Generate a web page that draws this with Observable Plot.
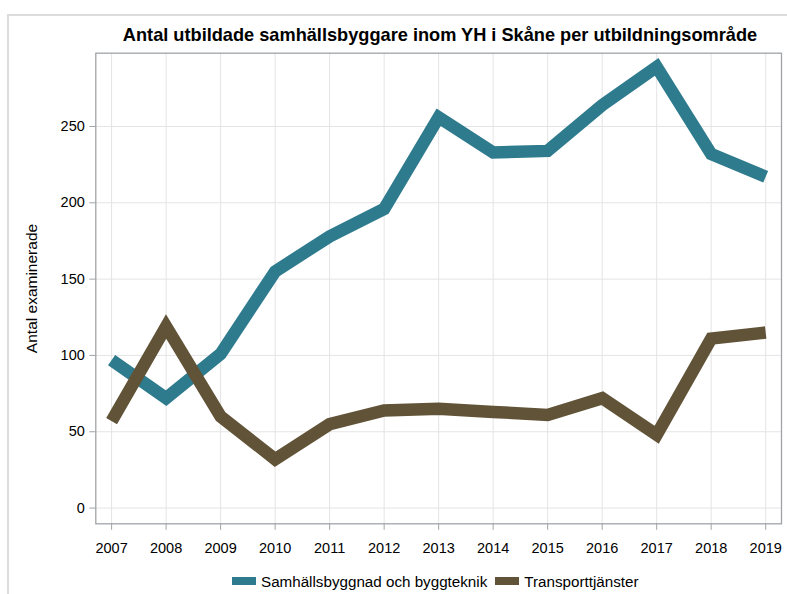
<!DOCTYPE html>
<html>
<head>
<meta charset="utf-8">
<script src="https://cdn.jsdelivr.net/npm/d3@7"></script>
<script src="https://cdn.jsdelivr.net/npm/@observablehq/plot@0.6"></script>
<style>
  html, body { margin: 0; padding: 0; background: #fff; }
  #wrap { position: relative; width: 787px; height: 594px; overflow: hidden; font-family: "Liberation Sans", Arial, sans-serif; }
  #border { position: absolute; left: 7px; top: 14px; width: 800px; height: 600px; border-left: 2px solid #dcdcdc; border-top: 2px solid #dcdcdc; }
  #title { position: absolute; left: 440px; top: 24px; transform: translateX(-50%); white-space: nowrap; font-weight: bold; font-size: 18.2px; line-height: 22px; color: #000; }
  #chart { position: absolute; left: 0; top: 50px; }
  #legend { position: absolute; left: 232px; top: 570px; height: 22px; display: flex; align-items: center; font-size: 15.2px; color: #000; white-space: nowrap; }
  .sw { display: inline-block; width: 24px; height: 8px; margin-right: 5px; }
  .item { display: flex; align-items: center; margin-right: 8px; }
</style>
</head>
<body>
<div id="wrap">
  <div id="border"></div>
  <div id="title"></div>
  <div id="chart"></div>
  <div id="legend"></div>
</div>
<script>
const titleText = "Antal utbildade samhällsbyggare inom YH i Skåne per utbildningsområde";
const yLabel = "Antal examinerade";
const years = [2007, 2008, 2009, 2010, 2011, 2012, 2013, 2014, 2015, 2016, 2017, 2018, 2019];
const seriesNames = ["Samhällsbyggnad och byggteknik", "Transporttjänster"];
const samhallsbyggnad = [97, 72, 101, 155, 178, 196, 256, 233, 234, 264, 289, 232, 217];
const transport = [57, 119, 60, 32, 55, 64, 65, 63, 61, 72, 48, 111, 115];
const yTicks = [0, 50, 100, 150, 200, 250];
const colors = ["#2f7b8e", "#615337"];

const data = [];
years.forEach((y, i) => data.push({year: y, value: samhallsbyggnad[i], series: seriesNames[0]}));
years.forEach((y, i) => data.push({year: y, value: transport[i], series: seriesNames[1]}));

document.getElementById("title").textContent = titleText;

const plot = Plot.plot({
  width: 787,
  height: 510,
  marginTop: 2.7,
  marginBottom: 36.7,
  marginLeft: 95.3,
  marginRight: 6,
  style: {fontFamily: "Liberation Sans, Arial, sans-serif", fontSize: "14.5px", color: "#000", background: "transparent"},
  x: {domain: [2006.71, 2019.29]},
  y: {domain: [-10.3, 298]},
  color: {domain: seriesNames, range: colors},
  marks: [
    Plot.gridX(years, {stroke: "#e4e4e4", strokeOpacity: 1, strokeWidth: 1}),
    Plot.gridY(yTicks, {stroke: "#e4e4e4", strokeOpacity: 1, strokeWidth: 1}),
    Plot.axisX(years, {tickFormat: d => String(d), tickSize: 6.5, tickPadding: 12, stroke: "#a0a4a8", label: null, fill: "#000", fontSize: 14.5}),
    Plot.axisY(yTicks, {tickSize: 6, tickPadding: 5, stroke: "#a0a4a8", label: null, fill: "#000", fontSize: 14.5}),
    Plot.axisY({ticks: [], label: yLabel, labelAnchor: "center", labelOffset: 70, labelArrow: "none", fill: "#000", fontSize: 15.5, tickSize: 0}),
    Plot.lineY(data, {x: "year", y: "value", z: "series", stroke: "series", strokeWidth: 12.5, strokeLinejoin: "miter", strokeLinecap: "butt", strokeMiterlimit: 10}),
    Plot.frame({stroke: "#a0a4a8", strokeWidth: 1.3})
  ]
});
document.getElementById("chart").appendChild(plot);

const legend = document.getElementById("legend");
seriesNames.forEach((name, i) => {
  const item = document.createElement("div");
  item.className = "item";
  const sw = document.createElement("span");
  sw.className = "sw";
  sw.style.background = colors[i];
  const t = document.createElement("span");
  t.textContent = name;
  item.appendChild(sw);
  item.appendChild(t);
  legend.appendChild(item);
});
</script>
</body>
</html>
